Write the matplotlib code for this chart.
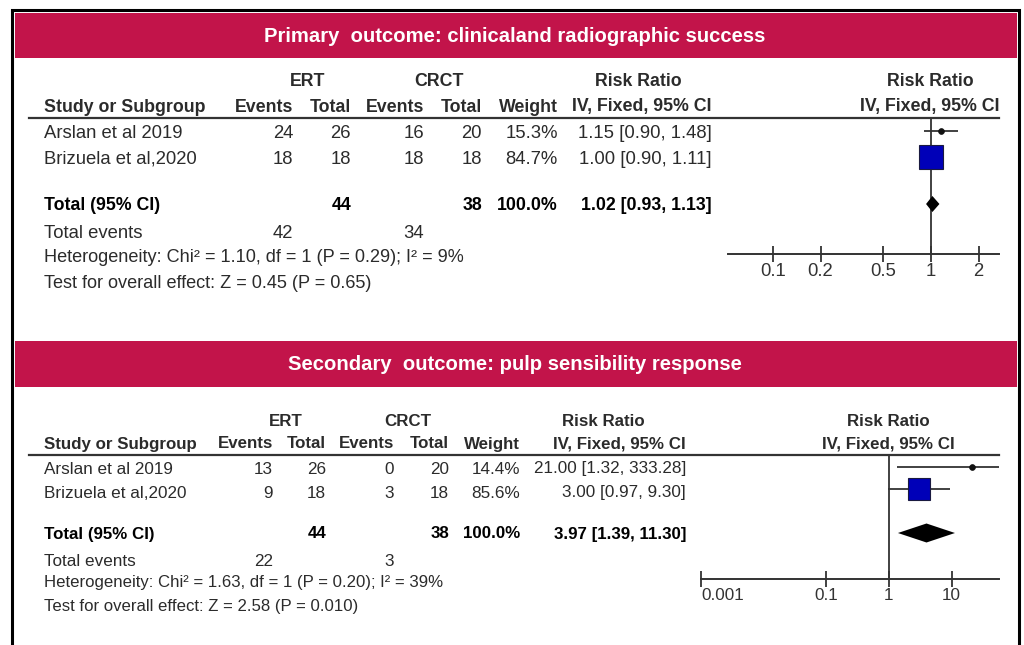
import matplotlib
matplotlib.use('Agg')
import matplotlib.pyplot as plt
from matplotlib.patches import Rectangle

W, H = 1024, 645
RED = '#C2144A'
BLUE = '#0000B8'
INK = '#2b2b2b'
FONT = 'Liberation Sans'

# ---- data ----
studies = ['Arslan et al 2019', 'Brizuela et al,2020']

primary_title = 'Primary  outcome: clinicaland radiographic success'
primary_ert_events = [24, 18]
primary_ert_total = [26, 18]
primary_crct_events = [16, 18]
primary_crct_total = [20, 18]
primary_weight = [15.3, 84.7]
primary_rr = [1.15, 1.00]
primary_lo = [0.90, 0.90]
primary_hi = [1.48, 1.11]
primary_pooled = [1.02, 0.93, 1.13]
primary_totals = [44, 38]
primary_total_events = [42, 34]
primary_het = 'Heterogeneity: Chi\u00b2 = 1.10, df = 1 (P = 0.29); I\u00b2 = 9%'
primary_test = 'Test for overall effect: Z = 0.45 (P = 0.65)'
primary_ticks = [0.1, 0.2, 0.5, 1, 2]
primary_ticklabels = ['0.1', '0.2', '0.5', '1', '2']

secondary_title = 'Secondary  outcome: pulp sensibility response'
secondary_ert_events = [13, 9]
secondary_ert_total = [26, 18]
secondary_crct_events = [0, 3]
secondary_crct_total = [20, 18]
secondary_weight = [14.4, 85.6]
secondary_rr = [21.00, 3.00]
secondary_lo = [1.32, 0.97]
secondary_hi = [333.28, 9.30]
secondary_pooled = [3.97, 1.39, 11.30]
secondary_totals = [44, 38]
secondary_total_events = [22, 3]
secondary_het = 'Heterogeneity: Chi\u00b2 = 1.63, df = 1 (P = 0.20); I\u00b2 = 39%'
secondary_test = 'Test for overall effect: Z = 2.58 (P = 0.010)'
secondary_ticks = [0.001, 0.1, 1, 10]
secondary_ticklabels = ['0.001', '0.1', '1', '10']

fig = plt.figure(figsize=(W / 100, H / 100), dpi=100)
ax = fig.add_axes([0, 0, 1, 1])
ax.set_xlim(0, W)
ax.set_ylim(H, 0)
ax.axis('off')

# outer frame
ax.plot([12, 12, 1019, 1019], [H, 10, 10, H], color='black', lw=2.2, solid_joinstyle='miter')


def txt(x, y, s, ha='left', bold=False, size=13, color=INK):
    ax.text(x, y, s, ha=ha, va='center', fontsize=size, family=FONT,
            fontweight='bold' if bold else 'normal', color=color)


def panel(d, lay):
    # banner
    ax.add_patch(Rectangle((15, lay['band'][0]), 1002, lay['band'][1] - lay['band'][0],
                           color=RED, lw=0))
    ax.text(515, (lay['band'][0] + lay['band'][1]) / 2 + 1, d['title'], ha='center',
            va='center', color='white', fontsize=14.6, family=FONT, fontweight='bold')

    c = lay['cols']
    fs = lay['fs']
    hs = lay['hs']
    y1, y2 = lay['head']
    txt((c[0] + c[1]) / 2 - 14, y1, 'ERT', 'center', True, hs)
    txt((c[2] + c[3]) / 2 - 14, y1, 'CRCT', 'center', True, hs)
    txt(lay['rr_center'], y1, 'Risk Ratio', 'center', True, hs)
    txt(lay['plot_center'], y1, 'Risk Ratio', 'center', True, hs)
    txt(44, y2, 'Study or Subgroup', 'left', True, hs)
    for x, s in zip(c, ['Events', 'Total', 'Events', 'Total', 'Weight', 'IV, Fixed, 95% CI']):
        txt(x, y2, s, 'right', True, hs)
    txt(lay['plot_center'], y2, 'IV, Fixed, 95% CI', 'center', True, hs)
    ax.plot([29, 999], [lay['rule'], lay['rule']], color='#333333', lw=1.6)

    for i, name in enumerate(studies):
        y = lay['rows'][i]
        txt(44, y, name, size=fs)
        vals = [d['ert_e'][i], d['ert_t'][i], d['crct_e'][i], d['crct_t'][i],
                f"{d['weight'][i]:.1f}%",
                f"{d['rr'][i]:.2f} [{d['lo'][i]:.2f}, {d['hi'][i]:.2f}]"]
        for x, v in zip(c, vals):
            txt(x, y, str(v), 'right', size=fs)

    y = lay['rows'][2]
    est, lo, hi = d['pooled']
    txt(44, y, 'Total (95% CI)', bold=True, size=hs, color='black')
    txt(c[1], y, str(d['totals'][0]), 'right', True, hs, 'black')
    txt(c[3], y, str(d['totals'][1]), 'right', True, hs, 'black')
    txt(c[4], y, '100.0%', 'right', True, hs, 'black')
    txt(c[5], y, f'{est:.2f} [{lo:.2f}, {hi:.2f}]', 'right', True, hs, 'black')

    y = lay['rows'][3]
    txt(44, y, 'Total events', size=fs)
    txt(c[0], y, str(d['tot_ev'][0]), 'right', size=fs)
    txt(c[2], y, str(d['tot_ev'][1]), 'right', size=fs)
    txt(44, lay['rows'][4], d['het'], size=fs - 0.2)
    txt(44, lay['rows'][5], d['test'], size=fs - 0.2)

    # forest plot
    left, right, top, bottom = lay['plot_box']
    fa = fig.add_axes([left / W, 1 - bottom / H, (right - left) / W, (bottom - top) / H])
    fa.set_xscale('log')
    fa.set_xlim(*lay['xlim'])
    fa.set_ylim(bottom, top)
    fa.patch.set_alpha(0)
    for s in ['top', 'left', 'right']:
        fa.spines[s].set_visible(False)
    fa.spines['bottom'].set_color('#333333')
    fa.spines['bottom'].set_linewidth(1.4)
    fa.set_yticks([])
    fa.set_xticks(d['ticks'])
    fa.set_xticklabels(d['ticklabels'], fontfamily=FONT, fontsize=fs, color='#333333')
    fa.minorticks_off()
    fa.tick_params(axis='x', direction='inout', length=11, width=1.3, color='#333333', pad=1)
    if lay.get('first_left'):
        fa.get_xticklabels()[0].set_horizontalalignment('left')
    fa.axvline(1, color='#333333', lw=1.3, zorder=1)

    py = lay['plot_rows']
    for i in range(len(studies)):
        fa.hlines(py[i], d['lo'][i], d['hi'][i], color='#333333', lw=1.3, zorder=2)
        side = d['weight'][i] * lay['sq_scale']
        if side > 8:
            fa.plot(d['rr'][i], py[i], marker='s', ms=side * 0.72, mfc=BLUE,
                    mec='#1a1a40', mew=0.8, zorder=3)
        else:
            # tiny weights render as a dark dot in RevMan exports
            fa.plot(d['rr'][i], py[i], marker='o', ms=4.2, mfc='#111111',
                    mec='#111111', mew=0.5, zorder=3)
    h = lay['dia_h']
    fa.fill([lo, est, hi, est], [py[2], py[2] - h, py[2], py[2] + h], color='black', lw=0, zorder=3)


primary = dict(title=primary_title, ert_e=primary_ert_events, ert_t=primary_ert_total,
               crct_e=primary_crct_events, crct_t=primary_crct_total, weight=primary_weight,
               rr=primary_rr, lo=primary_lo, hi=primary_hi, pooled=primary_pooled,
               totals=primary_totals, tot_ev=primary_total_events, het=primary_het,
               test=primary_test, ticks=primary_ticks, ticklabels=primary_ticklabels)
secondary = dict(title=secondary_title, ert_e=secondary_ert_events, ert_t=secondary_ert_total,
                 crct_e=secondary_crct_events, crct_t=secondary_crct_total, weight=secondary_weight,
                 rr=secondary_rr, lo=secondary_lo, hi=secondary_hi, pooled=secondary_pooled,
                 totals=secondary_totals, tot_ev=secondary_total_events, het=secondary_het,
                 test=secondary_test, ticks=secondary_ticks, ticklabels=secondary_ticklabels)

panel(primary, dict(band=(13, 58), head=(82, 107), rule=118, fs=13.3, hs=12.8,
                    cols=[293, 351, 424, 482, 558, 712], rr_center=638, plot_center=930,
                    rows=[134, 159, 206, 233, 258, 283], plot_rows=[131, 157, 204],
                    plot_box=(728, 999, 118, 254), xlim=(0.052, 2.69),
                    sq_scale=0.29, dia_h=8))
panel(secondary, dict(band=(341, 387), head=(421, 444), rule=455, fs=12.3, hs=12.2,
                      cols=[273, 326, 394, 449, 520, 686], rr_center=603, plot_center=888,
                      rows=[469, 493, 534, 561, 583, 606], plot_rows=[467, 489, 533],
                      plot_box=(701, 999, 455, 579), xlim=(0.001, 57),
                      sq_scale=0.26, dia_h=9.5, first_left=True))

fig.savefig('out.png', dpi=100)
